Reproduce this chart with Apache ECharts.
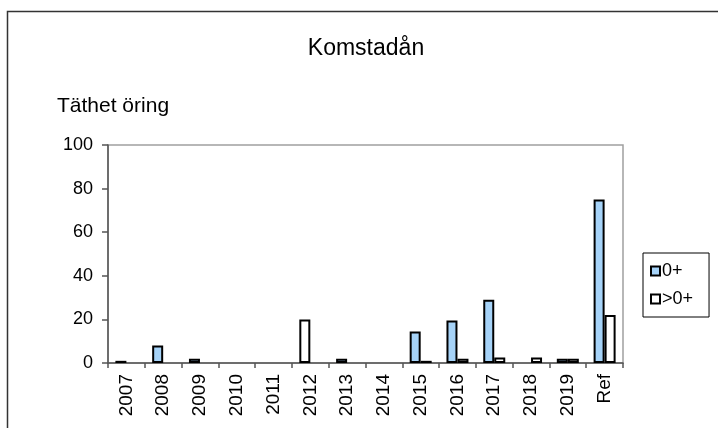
<!DOCTYPE html>
<html><head><meta charset="utf-8">
<script src="https://cdn.jsdelivr.net/npm/echarts@6/dist/echarts.min.js"></script>
<style>html,body{margin:0;padding:0;background:#fff}#c{width:718px;height:428px}</style>
</head><body><div id="c"></div>
<script>
const titleText = 'Komstadån';
const yAxisTitle = 'Täthet öring';
const categories = ['2007','2008','2009','2010','2011','2012','2013','2014','2015','2016','2017','2018','2019','Ref'];
const seriesNames = ['0+', '>0+'];
const young = [1, 8, 2, 0, 0, 20, 2, 0, 14.5, 19.5, 29, 0, 2, 75];
const older = [0, 0, 0, 0, 0, 0, 0, 0, 1, 2, 2.5, 2.5, 2, 22];
const yMin = 0, yMax = 100, yStep = 20;
const whiteYoungIdx = [5];

const FONT = 'Liberation Sans, Arial, sans-serif';
const BLUE = '#a6d3f8';
const nz = v => (v === 0 ? null : v);
const chart = echarts.init(document.getElementById('c'), null, {renderer: 'canvas'});
chart.setOption({
  animation: false,
  backgroundColor: '#fff',
  textStyle: {fontFamily: FONT},
  graphic: [
    {type: 'rect', shape: {x: 7.5, y: 11.5, width: 760, height: 460}, style: {fill: 'none', stroke: '#333', lineWidth: 1.5}, silent: true},
    {type: 'text', x: 366, y: 49, style: {text: titleText, fill: '#000', font: '23px ' + FONT, textAlign: 'center', textVerticalAlign: 'middle'}},
    {type: 'text', x: 57, y: 106, style: {text: yAxisTitle, fill: '#000', font: '21px ' + FONT, textAlign: 'left', textVerticalAlign: 'middle'}}
  ],
  legend: {
    orient: 'vertical', left: 643, top: 253,
    borderColor: '#000', borderWidth: 1,
    padding: [9, 16, 9, 7], itemGap: 10,
    itemWidth: 9, itemHeight: 9, icon: 'rect',
    itemStyle: {borderColor: '#000', borderWidth: 2},
    textStyle: {fontSize: 18, color: '#000', fontFamily: FONT, padding: [0, 0, 0, -3]},
    data: seriesNames
  },
  grid: {left: 108, right: 95, top: 145, bottom: 65, show: true, borderColor: '#a0a0a0', borderWidth: 1.5, backgroundColor: 'transparent'},
  xAxis: {
    type: 'category', data: categories,
    axisLine: {lineStyle: {color: '#555', width: 1.5}},
    axisTick: {show: true, length: 5, interval: 0, lineStyle: {color: '#555', width: 1.5}},
    axisLabel: {rotate: 90, fontSize: 19, color: '#000', margin: 11, interval: 0, fontFamily: FONT}
  },
  yAxis: {
    type: 'value', min: yMin, max: yMax, interval: yStep,
    axisLine: {show: true, lineStyle: {color: '#555', width: 1.5}},
    axisTick: {show: true, length: 6, lineStyle: {color: '#555', width: 1.5}},
    axisLabel: {fontSize: 18, color: '#000', margin: 15, fontFamily: FONT},
    splitLine: {show: false}
  },
  series: [
    {name: seriesNames[0], type: 'bar', barWidth: 11, barGap: '0%',
     itemStyle: {color: BLUE, borderColor: '#000', borderWidth: 2},
     data: young.map((v, i) => whiteYoungIdx.includes(i) ? {value: v, itemStyle: {color: '#fff'}} : nz(v))},
    {name: seriesNames[1], type: 'bar', barWidth: 11, barGap: '0%',
     itemStyle: {color: '#fff', borderColor: '#000', borderWidth: 2},
     data: older.map(nz)}
  ]
});
</script></body></html>
